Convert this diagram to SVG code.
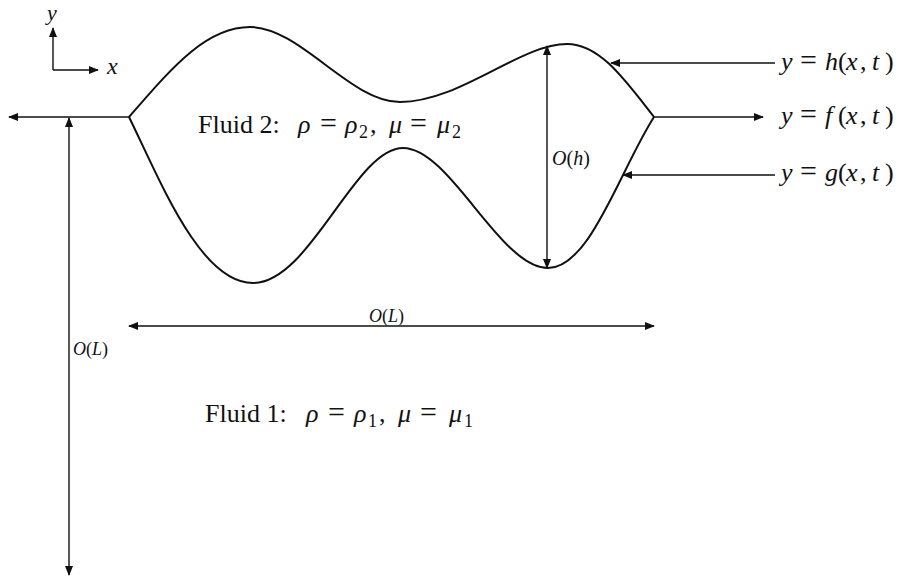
<svg xmlns="http://www.w3.org/2000/svg" width="904" height="577" viewBox="0 0 904 577">
<style>
.t{font-family:"Liberation Serif","Times New Roman",serif;fill:#111}
.i{font-style:italic}
.eq{font-size:30px}
.curve{fill:none;stroke:#111;stroke-width:2}
.ln{fill:none;stroke:#111;stroke-width:1.4}
</style>
<defs>
<marker id="ah" viewBox="0 0 10 8" refX="9" refY="4" markerWidth="10" markerHeight="8" markerUnits="userSpaceOnUse" orient="auto-start-reverse">
<path d="M0,0 L10,4 L0,8 Z" fill="#111"/>
</marker>
</defs>
<rect width="904" height="577" fill="#fff"/>
<g id="axes">
<line class="ln" x1="53" y1="70" x2="53" y2="28" marker-end="url(#ah)"/>
<line class="ln" x1="53" y1="70" x2="98" y2="70" marker-end="url(#ah)"/>
<text class="t i" x="47" y="20" font-size="22">y</text>
<text class="t i" x="107" y="74" font-size="24">x</text>
</g>
<g id="interfaces">
<path id="h-curve" class="curve" d="M129,117 C170,70 205,27 250,27 C300,27 350,102 400,102 C460,102 520,44 567,44 C600,44 625,80 654,117"/>
<path id="g-curve" class="curve" d="M129,117 C160,180 200,283 253,283 C310,283 355,148 403,148 C450,148 500,268 548,268 C590,268 620,170 654,117"/>
</g>
<g id="connectors">
<line class="ln" x1="129" y1="117" x2="9" y2="117" marker-end="url(#ah)"/>
<line class="ln" x1="654" y1="117" x2="763" y2="117" marker-end="url(#ah)"/>
<line class="ln" x1="775" y1="63" x2="611" y2="63" marker-end="url(#ah)"/>
<line class="ln" x1="775" y1="175" x2="623" y2="175" marker-end="url(#ah)"/>
<line class="ln" x1="547" y1="46" x2="547" y2="268" marker-start="url(#ah)" marker-end="url(#ah)"/>
<line class="ln" x1="129" y1="326" x2="654" y2="326" marker-start="url(#ah)" marker-end="url(#ah)"/>
<line class="ln" x1="69" y1="118" x2="69" y2="575" marker-start="url(#ah)" marker-end="url(#ah)"/>
</g>
<g id="labels">
<text class="t" y="70" font-size="26"><tspan class="i" x="781">y</tspan><tspan class="eq" x="800">=</tspan><tspan class="i" x="825">h</tspan><tspan x="838">(</tspan><tspan class="i" x="846">x</tspan><tspan x="860">,</tspan><tspan class="i" x="872">t</tspan><tspan x="885">)</tspan></text>
<text class="t" y="124" font-size="26"><tspan class="i" x="781">y</tspan><tspan class="eq" x="800">=</tspan><tspan class="i" x="825">f</tspan><tspan x="838">(</tspan><tspan class="i" x="846">x</tspan><tspan x="860">,</tspan><tspan class="i" x="872">t</tspan><tspan x="885">)</tspan></text>
<text class="t" y="181" font-size="26"><tspan class="i" x="781">y</tspan><tspan class="eq" x="800">=</tspan><tspan class="i" x="825">g</tspan><tspan x="838">(</tspan><tspan class="i" x="846">x</tspan><tspan x="860">,</tspan><tspan class="i" x="872">t</tspan><tspan x="885">)</tspan></text>
<text class="t" x="552" y="165" font-size="20"><tspan class="i">O</tspan>(<tspan class="i">h</tspan>)</text>
<text class="t" x="369" y="322" font-size="18"><tspan class="i">O</tspan>(<tspan class="i">L</tspan>)</text>
<text class="t" x="73" y="355" font-size="18"><tspan class="i">O</tspan>(<tspan class="i">L</tspan>)</text>
<text class="t" y="133" font-size="26"><tspan x="198">Fluid 2:</tspan><tspan class="i" x="298">ρ</tspan><tspan class="eq" x="320">=</tspan><tspan class="i" x="345">ρ</tspan><tspan x="359" dy="5" font-size="18">2</tspan><tspan x="370" dy="-5">,</tspan><tspan class="i" x="389">μ</tspan><tspan class="eq" x="410">=</tspan><tspan class="i" x="437">μ</tspan><tspan x="452" dy="5" font-size="18">2</tspan></text>
<text class="t" y="422" font-size="26"><tspan x="205">Fluid 1:</tspan><tspan class="i" x="306">ρ</tspan><tspan class="eq" x="328">=</tspan><tspan class="i" x="354">ρ</tspan><tspan x="368" dy="5" font-size="18">1</tspan><tspan x="379" dy="-5">,</tspan><tspan class="i" x="398">μ</tspan><tspan class="eq" x="420">=</tspan><tspan class="i" x="449">μ</tspan><tspan x="464" dy="5" font-size="18">1</tspan></text>
</g>
</svg>
